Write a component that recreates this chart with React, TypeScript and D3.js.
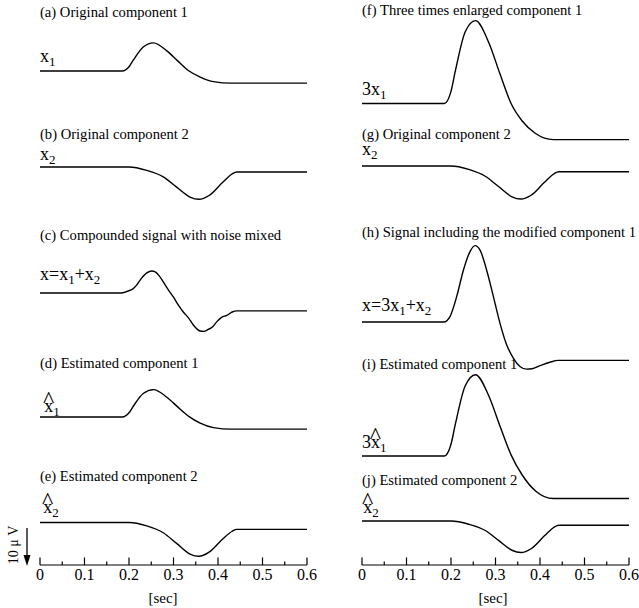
import React from "react";
import * as d3 from "d3";

// ---- data (μV, upward positive) ----
const T_C1 = [0, 0.185, 0.2, 0.21, 0.232, 0.255, 0.285, 0.31, 0.335, 0.36, 0.39, 0.43, 0.6];
const X1_A = [0, 0, 1.1, 2.9, 6.3, 7.4, 5.3, 2.6, 0, -1.6, -2.8, -3.2, -3.2];
const X1_D = [0, 0, 1.1, 2.9, 6.2, 7.2, 5.2, 2.6, 0.1, -1.6, -2.8, -3.2, -3.2];
const X1_F = [0, 0, 3.2, 8.7, 18.9, 21.8, 16.0, 7.8, 0, -4.6, -7.9, -9.5, -9.5];
const X1_I = [0, 0, 3.1, 8.5, 18.5, 21.4, 15.8, 7.9, 0.3, -5.0, -9.2, -11.2, -11.2];

const T_C2 = [0, 0.2, 0.24, 0.277, 0.307, 0.337, 0.357, 0.38, 0.41, 0.432, 0.442, 0.6];
const X2_B = [0, 0, -0.9, -2.6, -5.3, -7.9, -8.5, -7.5, -4.1, -1.8, -1.3, -1.3];
const X2_E = [0, 0, -0.9, -2.7, -5.5, -8.3, -8.9, -7.8, -4.4, -2.3, -1.8, -1.8];
const X2_G = [0, 0, -0.9, -2.7, -5.4, -8.1, -8.7, -7.7, -4.3, -2.0, -1.5, -1.5];
const X2_J = [0, 0, -0.85, -2.5, -5.1, -7.7, -8.3, -7.3, -3.9, -1.6, -1.1, -1.1];

const T_MIX = [0, 0.182, 0.195, 0.21, 0.218, 0.225, 0.24, 0.251, 0.258, 0.268, 0.277, 0.288, 0.3, 0.311, 0.322, 0.334, 0.345, 0.353, 0.36, 0.368, 0.378, 0.388, 0.397, 0.408, 0.42, 0.432, 0.442, 0.6];
const X_MIX = [0, 0, 0.4, 1.2, 2.2, 3.4, 5.3, 5.8, 5.6, 4.5, 2.9, 0.9, -1.1, -3.2, -5.0, -6.6, -8.5, -9.5, -10.0, -10.1, -9.6, -8.9, -7.6, -6.4, -5.9, -5.0, -4.7, -4.7];

const T_MIX3 = [0, 0.184, 0.198, 0.213, 0.228, 0.243, 0.254, 0.265, 0.28, 0.295, 0.31, 0.325, 0.34, 0.355, 0.37, 0.382, 0.4, 0.422, 0.441, 0.6];
const X_MIX3 = [0, 0, 1.5, 6.8, 13.7, 18.6, 20.1, 19.0, 13.7, 6.8, -0.3, -6.0, -9.5, -11.7, -12.4, -12.3, -11.5, -10.6, -10.1, -10.1];

const MAJOR_TICKS = [0, 0.1, 0.2, 0.3, 0.4, 0.5, 0.6];
const MINOR_TICKS = [0.05, 0.15, 0.25, 0.35, 0.45, 0.55];
const TICK_LABELS = ["0", "0.1", "0.2", "0.3", "0.4", "0.5", "0.6"];

const TITLES = [
  "(a) Original component 1",
  "(b) Original component 2",
  "(c) Compounded signal with noise mixed",
  "(d) Estimated component 1",
  "(e) Estimated component 2",
  "(f) Three times enlarged component 1",
  "(g) Original component 2",
  "(h) Signal including the modified component 1",
  "(i) Estimated component 1",
  "(j) Estimated component 2",
];

// ---- layout ----
const W = 639;
const H = 608;
const FONT = "'Liberation Serif', 'Times New Roman', Times, serif";
const PX_PER_UV = 3.8;
const AXIS_Y = 565;
const COLS = [
  { x0: 40, x1: 307, secX: 163 },
  { x0: 362, x1: 629, secX: 493 },
];

const PANELS = [
  { col: 0, base: 71, titleY: 17, t: T_C1, v: X1_A },
  { col: 0, base: 167, titleY: 139, t: T_C2, v: X2_B },
  { col: 0, base: 293, titleY: 240, t: T_MIX, v: X_MIX },
  { col: 0, base: 417, titleY: 368, t: T_C1, v: X1_D },
  { col: 0, base: 522.5, titleY: 481, t: T_C2, v: X2_E },
  { col: 1, base: 103.5, titleY: 15, t: T_C1, v: X1_F },
  { col: 1, base: 166, titleY: 139, t: T_C2, v: X2_G },
  { col: 1, base: 322, titleY: 237, t: T_MIX3, v: X_MIX3 },
  { col: 1, base: 456, titleY: 369, t: T_C1, v: X1_I },
  { col: 1, base: 521, titleY: 485, t: T_C2, v: X2_J },
];

const LBL = 18;
const SUB = 13;
const HAT = 24;

function Hat({ sub }: { sub: string }) {
  return (
    <>
      <tspan dx={-10.2} dy={-4.6} fontSize={HAT}>^</tspan>
      <tspan dx={-1} dy={8.6} fontSize={SUB}>{sub}</tspan>
    </>
  );
}

function Labels() {
  const common = { fontFamily: FONT, fontSize: LBL, fill: "#000" } as any;
  return (
    <g>
      <text x={40} y={62} {...common}>x<tspan dy={4} fontSize={SUB}>1</tspan></text>
      <text x={40} y={160} {...common}>x<tspan dy={4} fontSize={SUB}>2</tspan></text>
      <text x={40} y={280} {...common}>
        x=x<tspan dy={4} fontSize={SUB}>1</tspan><tspan dy={-4}>+x</tspan><tspan dy={4} fontSize={SUB}>2</tspan>
      </text>
      <text x={43} y={412} {...common}>x<Hat sub="1" /></text>
      <text x={42} y={513} {...common}>x<Hat sub="2" /></text>
      <text x={362} y={95} {...common}>3x<tspan dy={4} fontSize={SUB}>1</tspan></text>
      <text x={362} y={155} {...common}>x<tspan dy={4} fontSize={SUB}>2</tspan></text>
      <text x={362} y={311} {...common}>
        x=3x<tspan dy={4} fontSize={SUB}>1</tspan><tspan dy={-4}>+x</tspan><tspan dy={4} fontSize={SUB}>2</tspan>
      </text>
      <text x={362} y={448} {...common}>3x<Hat sub="1" /></text>
      <text x={362} y={513} {...common}>x<Hat sub="2" /></text>
    </g>
  );
}

export default function App() {
  const xScales = COLS.map((c) => d3.scaleLinear().domain([0, 0.6]).range([c.x0, c.x1]));

  return (
    <svg
      width={W}
      height={H}
      viewBox={`0 0 ${W} ${H}`}
      style={{ position: "absolute", left: 0, top: 0, background: "#fff" }}
    >
      <rect x={0} y={0} width={W} height={H} fill="#fff" />
      {PANELS.map((p, i) => {
        const xs = xScales[p.col];
        const ys = d3.scaleLinear().domain([0, 10]).range([p.base, p.base - 10 * PX_PER_UV]);
        const pts = p.t.map((t, k) => [t, p.v[k]] as [number, number]);
        const line = d3
          .line<[number, number]>()
          .x((d) => xs(d[0]))
          .y((d) => ys(d[1]))
          .curve(d3.curveMonotoneX);
        return (
          <g key={i}>
            <text x={COLS[p.col].x0} y={p.titleY} fontFamily={FONT} fontSize={14.6} fill="#000">
              {TITLES[i]}
            </text>
            <path d={line(pts) || ""} fill="none" stroke="#000" strokeWidth={1.4} />
          </g>
        );
      })}
      <Labels />
      {COLS.map((c, ci) => {
        const xs = xScales[ci];
        return (
          <g key={"ax" + ci}>
            <line x1={xs(0)} x2={xs(0.6)} y1={AXIS_Y} y2={AXIS_Y} stroke="#000" strokeWidth={1.2} />
            {MAJOR_TICKS.map((t, k) => (
              <g key={"M" + k}>
                <line x1={xs(t)} x2={xs(t)} y1={AXIS_Y} y2={AXIS_Y - 7.5} stroke="#000" strokeWidth={1.2} />
                <text x={xs(t)} y={580} textAnchor="middle" fontFamily={FONT} fontSize={16} fill="#000">
                  {TICK_LABELS[k]}
                </text>
              </g>
            ))}
            {MINOR_TICKS.map((t, k) => (
              <line key={"m" + k} x1={xs(t)} x2={xs(t)} y1={AXIS_Y} y2={AXIS_Y - 3.5} stroke="#000" strokeWidth={1.2} />
            ))}
            <text x={c.secX} y={603} textAnchor="middle" fontFamily={FONT} fontSize={15} fill="#000">
              [sec]
            </text>
          </g>
        );
      })}
      {/* 10 μV scale arrow */}
      <line x1={27} x2={27} y1={528} y2={556} stroke="#000" strokeWidth={1.3} />
      <polygon points="23.5,555 30.5,555 27,566" fill="#000" />
      <text
        transform="translate(18,545) rotate(-90)"
        textAnchor="middle"
        fontFamily={FONT}
        fontSize={14}
        fill="#000"
      >
        10 μ V
      </text>
    </svg>
  );
}
